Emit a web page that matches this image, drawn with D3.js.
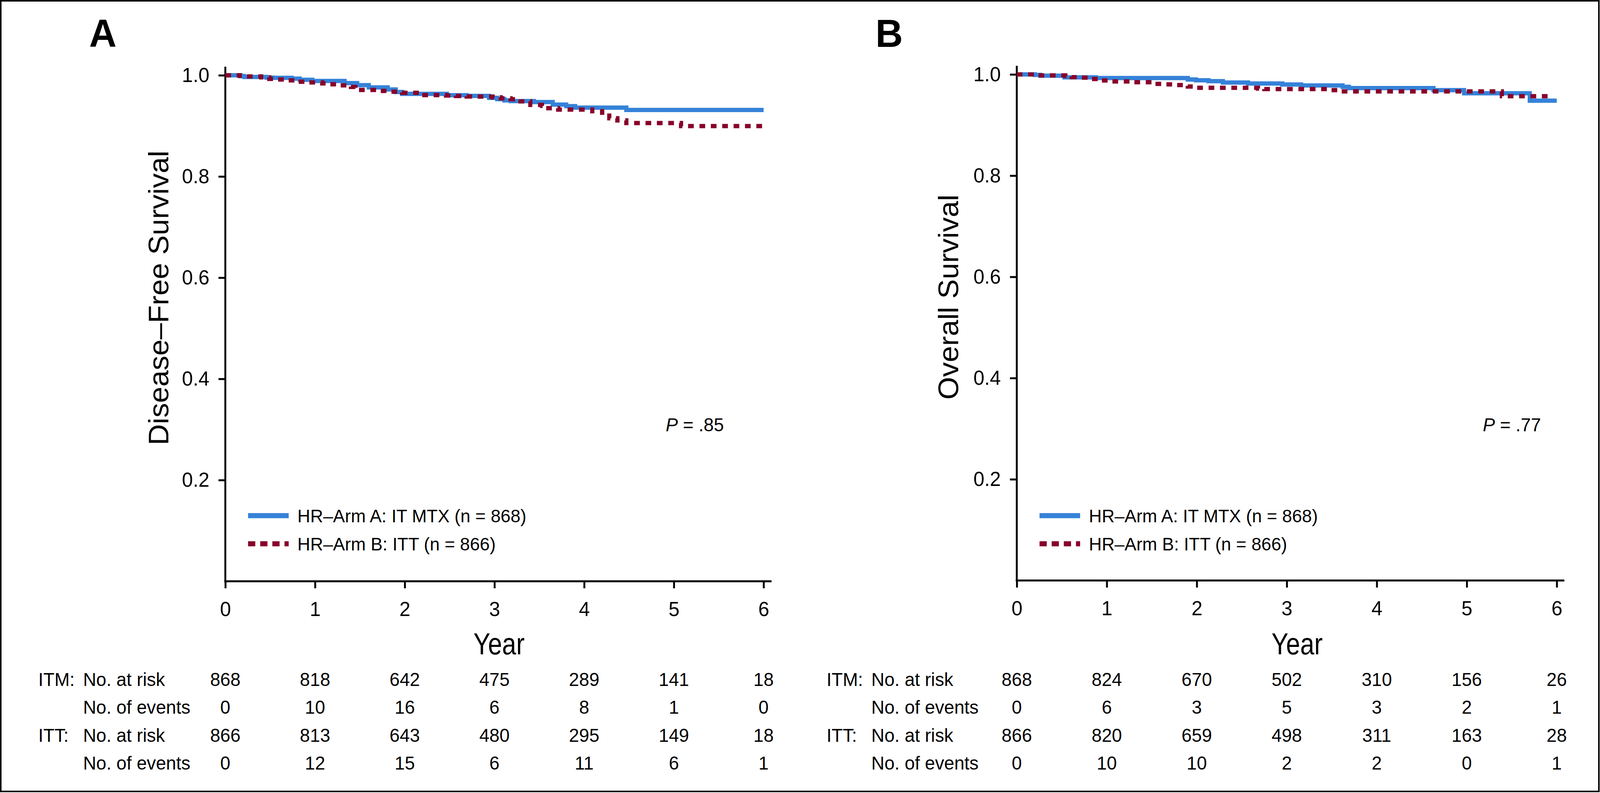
<!DOCTYPE html>
<html>
<head>
<meta charset="utf-8">
<script src="https://cdn.jsdelivr.net/npm/d3@7"></script>
<style>
  html, body { margin: 0; padding: 0; background: #fff; overflow: hidden; }
  #chart svg { display: block; width: 100vw; height: 100vh; }
  text { font-family: "Liberation Sans", Arial, sans-serif; fill: #000; }
</style>
</head>
<body>
<div id="chart"></div>
<script>
//Tick values and risk table columns
var years = [0, 1, 2, 3, 4, 5, 6];
var survTicks = [0.2, 0.4, 0.6, 0.8, 1.0];

//Disease-free survival (time in years, survival after step)
var dfsA_t = [0, 0.17, 0.21, 0.46, 0.53, 0.74, 0.83, 0.97, 1.33, 1.47, 1.60, 1.81, 1.90, 1.97, 2.47, 2.69, 2.94, 3.03, 3.11, 3.18, 3.44, 3.65, 3.80, 3.90, 4.47, 6.00];
var dfsA_s = [1.000, 0.9985, 0.9967, 0.9954, 0.9950, 0.9934, 0.9910, 0.9887, 0.9846, 0.9805, 0.9760, 0.9720, 0.9670, 0.9632, 0.9606, 0.9593, 0.9554, 0.9529, 0.9503, 0.9490, 0.9470, 0.9420, 0.9390, 0.9360, 0.9315, 0.9315];
var dfsB_t = [0, 0.16, 0.23, 0.40, 0.49, 0.57, 0.70, 0.80, 0.93, 1.08, 1.15, 1.28, 1.40, 1.45, 1.49, 1.73, 1.84, 1.97, 2.19, 2.46, 2.57, 2.69, 2.80, 2.98, 3.07, 3.18, 3.29, 3.40, 3.53, 3.60, 3.71, 4.09, 4.20, 4.28, 4.37, 4.47, 5.08, 6.00];
var dfsB_s = [1.000, 0.9988, 0.9977, 0.9960, 0.9928, 0.9917, 0.9900, 0.9872, 0.9858, 0.9840, 0.9822, 0.9800, 0.9770, 0.9750, 0.9710, 0.9690, 0.9676, 0.9655, 0.9608, 0.9600, 0.9590, 0.9580, 0.9578, 0.9563, 0.9544, 0.9526, 0.9485, 0.9415, 0.9395, 0.9350, 0.9323, 0.9289, 0.9260, 0.9150, 0.9107, 0.9056, 0.8996, 0.8996];

//Overall survival
var osA_t = [0, 0.20, 0.26, 0.53, 0.88, 1.90, 1.99, 2.13, 2.29, 2.57, 2.95, 3.16, 3.62, 3.69, 4.63, 4.97, 5.70, 6.00];
var osA_s = [1.000, 0.9990, 0.9975, 0.9942, 0.9929, 0.9900, 0.9885, 0.9867, 0.9839, 0.9820, 0.9802, 0.9782, 0.9755, 0.9730, 0.9689, 0.9628, 0.9480, 0.9480];
var osB_t = [0, 0.19, 0.22, 0.54, 0.61, 0.72, 0.83, 0.93, 1.05, 1.30, 1.54, 1.65, 1.78, 1.90, 2.00, 2.68, 2.75, 3.48, 3.61, 5.39, 5.95];
var osB_s = [1.000, 0.9990, 0.9980, 0.9970, 0.9946, 0.9936, 0.9910, 0.9880, 0.9862, 0.9846, 0.9812, 0.9803, 0.9790, 0.9760, 0.9735, 0.9720, 0.9710, 0.9690, 0.9665, 0.9570, 0.9570];

//Numbers at risk / events
var dfsRiskITM = [868, 818, 642, 475, 289, 141, 18];
var dfsEventsITM = [0, 10, 16, 6, 8, 1, 0];
var dfsRiskITT = [866, 813, 643, 480, 295, 149, 18];
var dfsEventsITT = [0, 12, 15, 6, 11, 6, 1];
var osRiskITM = [868, 824, 670, 502, 310, 156, 26];
var osEventsITM = [0, 6, 3, 5, 3, 2, 1];
var osRiskITT = [866, 820, 659, 498, 311, 163, 28];
var osEventsITT = [0, 10, 10, 2, 2, 0, 1];

var legendLabels = ["HR\u2013Arm A: IT MTX (n = 868)", "HR\u2013Arm B: ITT (n = 866)"];

var width = 4218, height = 2030;
var blue = "#3582d8", red = "#88002a";

//svg scales itself to whatever viewport the browser gives
var svg = d3.select("#chart").append("svg")
  .attr("viewBox", "0 0 " + width + " " + height)
  .attr("preserveAspectRatio", "none");

// outer frame
svg.append("rect")
  .attr("x", 2).attr("y", 2)
  .attr("width", width - 5).attr("height", height - 6)
  .style("fill", "none")
  .style("stroke", "#000")
  .style("stroke-width", 4);

function zip(t, s) {
  return t.map(function (d, i) { return [d, s[i]]; });
}

var panels = [
  {letter: "A", left: 594, right: 2013, top: 192.7, bottom: 1488, axisEnd: 2034,
    letterX: 235, yLabel: "Disease\u2013Free Survival", yLabelX: 444, yearX: 1315,
    p: ".85", pX: 1755, tableX: 101,
    curves: [zip(dfsA_t, dfsA_s), zip(dfsB_t, dfsB_s)],
    rows: [dfsRiskITM, dfsEventsITM, dfsRiskITT, dfsEventsITT]},
  {letter: "B", left: 2680.5, right: 4104, top: 190.5, bottom: 1486, axisEnd: 4124,
    letterX: 2308, yLabel: "Overall Survival", yLabelX: 2526, yearX: 3419,
    p: ".77", pX: 3909, tableX: 2179,
    curves: [zip(osA_t, osA_s), zip(osB_t, osB_s)],
    rows: [osRiskITM, osEventsITM, osRiskITT, osEventsITT]}
];

var rowLabels = [["ITM:", "No. at risk"], ["", "No. of events"], ["ITT:", "No. at risk"], ["", "No. of events"]];
var rowBaselines = [1756, 1827, 1899, 1970];

panels.forEach(function (p) {
  var x = d3.scaleLinear().domain([0, 6]).range([p.left, p.right]);
  var y = d3.scaleLinear().domain([0, 1]).range([p.bottom, p.top]);
  var g = svg.append("g");

  g.append("text")
    .attr("x", p.letterX).attr("y", 120)
    .style("font-size", "100px").style("font-weight", "bold")
    .text(p.letter);

  // y axis
  var yAxis = g.append("g")
    .attr("transform", "translate(" + p.left + ",0)")
    .call(d3.axisLeft(y).tickValues(survTicks).tickFormat(d3.format(".1f"))
      .tickSize(18).tickPadding(24).tickSizeOuter(0));
  yAxis.select(".domain").remove();
  yAxis.selectAll("line").style("stroke", "#000").style("stroke-width", 5);
  yAxis.selectAll("text").style("font-size", "52px")
    .style("font-family", "'Liberation Sans', Arial, sans-serif");

  // x axis
  var xAxis = g.append("g")
    .attr("transform", "translate(0," + p.bottom + ")")
    .call(d3.axisBottom(x).tickValues(years).tickFormat(d3.format("d"))
      .tickSize(18).tickPadding(34).tickSizeOuter(0));
  xAxis.select(".domain").remove();
  xAxis.selectAll("line").style("stroke", "#000").style("stroke-width", 5);
  xAxis.selectAll("text").style("font-size", "52px")
    .style("font-family", "'Liberation Sans', Arial, sans-serif");

  g.append("line")
    .attr("x1", p.left).attr("x2", p.left)
    .attr("y1", y(1.017)).attr("y2", p.bottom + 2.5)
    .style("stroke", "#000").style("stroke-width", 5);
  g.append("line")
    .attr("x1", p.left - 2.5).attr("x2", p.axisEnd)
    .attr("y1", p.bottom).attr("y2", p.bottom)
    .style("stroke", "#000").style("stroke-width", 5);

  g.append("text")
    .attr("transform", "translate(" + p.yLabelX + "," + y(0.56) + ") rotate(-90)")
    .attr("text-anchor", "middle")
    .style("font-size", "75px")
    .text(p.yLabel);

  g.append("text")
    .attr("x", p.yearX - 67).attr("y", 1675)
    .attr("textLength", 135)
    .attr("lengthAdjust", "spacingAndGlyphs")
    .style("font-size", "78px")
    .text("Year");

  // P value
  var pt = g.append("text")
    .attr("x", p.pX).attr("y", 1104)
    .style("font-size", "48px");
  pt.append("tspan").style("font-style", "italic").text("P");
  pt.append("tspan").text(" = " + p.p);

  // KM curves
  var line = d3.line()
    .x(function (d) { return x(d[0]); })
    .y(function (d) { return y(d[1]); })
    .curve(d3.curveStepAfter);

  g.append("path")
    .datum(p.curves[0])
    .attr("d", line)
    .style("fill", "none").style("stroke", blue).style("stroke-width", 11);
  g.append("path")
    .datum(p.curves[1])
    .attr("d", line)
    .style("fill", "none").style("stroke", red).style("stroke-width", 11)
    .style("stroke-dasharray", "15,15");

  // legend
  var legendY = [1320, 1392];
  legendLabels.forEach(function (lab, i) {
    g.append("line")
      .attr("x1", p.left + 60).attr("x2", p.left + 167)
      .attr("y1", legendY[i]).attr("y2", legendY[i])
      .style("stroke", i === 0 ? blue : red)
      .style("stroke-width", 13)
      .style("stroke-dasharray", i === 0 ? null : "19,13");
    g.append("text")
      .attr("x", p.left + 190).attr("y", legendY[i])
      .attr("dy", "0.36em")
      .style("font-size", "47px")
      .text(lab);
  });

  // risk table
  p.rows.forEach(function (row, r) {
    g.append("text")
      .attr("x", p.tableX).attr("y", rowBaselines[r])
      .style("font-size", "48px")
      .text(rowLabels[r][0]);
    g.append("text")
      .attr("x", p.tableX + 118).attr("y", rowBaselines[r])
      .style("font-size", "48px")
      .text(rowLabels[r][1]);
    g.selectAll(".cell" + r)
      .data(row)
      .enter().append("text")
      .attr("class", "cell" + r)
      .attr("x", function (d, i) { return x(years[i]); })
      .attr("y", rowBaselines[r])
      .attr("text-anchor", "middle")
      .style("font-size", "48px")
      .text(function (d) { return d; });
  });
});
</script>
</body>
</html>
